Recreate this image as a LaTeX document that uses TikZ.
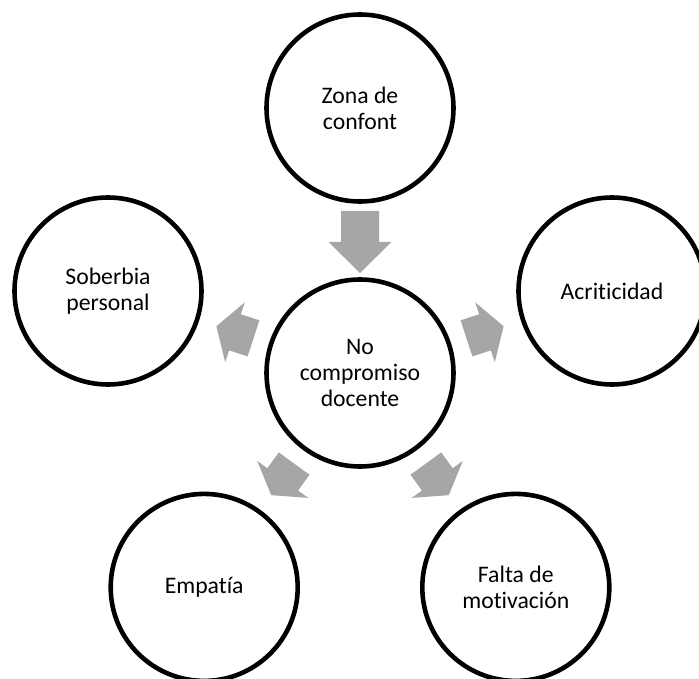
\documentclass[tikz,border=0pt]{standalone}
\usepackage{fontspec}
\setmainfont{Carlito}[Ligatures=NoCommon]
\usetikzlibrary{calc}
\definecolor{arrowgray}{RGB}{166,166,166}
\tikzset{
  bubble/.style={circle, draw=black, line width=4.6pt, minimum size=187pt,
    inner sep=0pt, align=center, fill=white,
    font=\fontsize{23.7pt}{26pt}\selectfont},
  arrowfill/.style={fill=arrowgray, draw=none}
}
% Block arrow along the line from node #1 towards node #2:
% #3 = distance of the tail, #4 = distance of the head base, #5 = distance of the tip
\newcommand{\radialarrow}[5]{%
  \path ($(#1.center)!#3!(#2.center)$) coordinate (ta)
        ($(#1.center)!#4!(#2.center)$) coordinate (hb)
        ($(#1.center)!#5!(#2.center)$) coordinate (tp);
  \fill[arrowfill] ($(ta)!19pt!90:(tp)$) -- ($(hb)!19pt!90:(tp)$)
    -- ($(hb)!31.5pt!90:(tp)$) -- (tp) -- ($(hb)!31.5pt!-90:(tp)$)
    -- ($(hb)!19pt!-90:(tp)$) -- ($(ta)!19pt!-90:(tp)$) -- cycle;
}
\begin{document}
\begin{tikzpicture}[x=1pt,y=-1pt]
\useasboundingbox (0,0) rectangle (699,679);

% five bubbles on a regular pentagon around the central one
\node[bubble] (mid) at (360,373) {No\\compromiso\\docente};
\node[bubble] (top) at (360,108) {Zona de\\confont};
\node[bubble] (left) at (108,291) {Soberbia\\personal};
\node[bubble] (right) at (612,291) {Acriticidad};
\node[bubble] (botleft) at (204.2,587.4) {Empatía};
\node[bubble] (botright) at (515.8,587.4) {Falta de\\motivación};

% block arrows
\radialarrow{mid}{top}{162pt}{131pt}{100pt}
\radialarrow{mid}{left}{112pt}{131.5pt}{151pt}
\radialarrow{mid}{right}{112pt}{131.5pt}{151pt}
\radialarrow{mid}{botleft}{112pt}{131.5pt}{151pt}
\radialarrow{mid}{botright}{112pt}{131.5pt}{151pt}
\end{tikzpicture}
\end{document}
